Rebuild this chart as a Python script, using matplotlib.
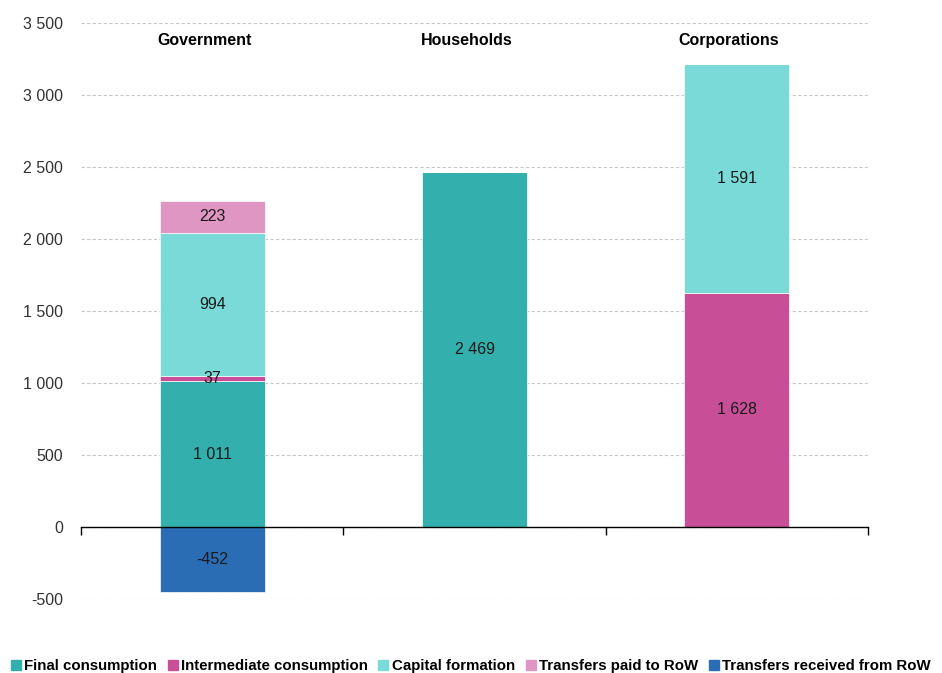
import matplotlib
matplotlib.use("Agg")
import matplotlib.pyplot as plt
from matplotlib.lines import Line2D
import numpy as np

plt.rcParams['font.family'] = ['Liberation Sans', 'DejaVu Sans']

categories = ["Government", "Households", "Corporations"]
series_names = ["Final consumption", "Intermediate consumption", "Capital formation",
                "Transfers paid to RoW", "Transfers received from RoW"]
final_consumption = [1011, 2469, 0]
intermediate_consumption = [37, 0, 1628]
capital_formation = [994, 0, 1591]
transfers_paid = [223, 0, 0]
transfers_received = [-452, 0, 0]
colors = ["#33B0AE", "#C84F97", "#7ADAD8", "#E096C2", "#2A6DB5"]
yticks = [-500, 0, 500, 1000, 1500, 2000, 2500, 3000, 3500]

def fmt(v):
    return f"{v:,}".replace(",", " ")

fig = plt.figure(figsize=(9.42, 6.73), dpi=100)
ax = fig.add_axes([0.086, 0.110, 0.8355, 0.8557])

x = np.arange(len(categories))
width = 0.4
pos_series = [final_consumption, intermediate_consumption, capital_formation, transfers_paid]
bottom = np.zeros(len(categories))
for vals, c in zip(pos_series, colors[:4]):
    vals = np.array(vals, dtype=float)
    ax.bar(x, vals, width, bottom=bottom, color=c, edgecolor="white", linewidth=0.5, zorder=3)
    for xi, v, b in zip(x, vals, bottom):
        if v != 0:
            ax.text(xi, b + v / 2, fmt(int(v)), ha="center", va="center", fontsize=11.5,
                    color="#1a1a1a", zorder=4)
    bottom += vals
neg = np.array(transfers_received, dtype=float)
ax.bar(x, neg, width, color=colors[4], edgecolor="white", linewidth=0.5, zorder=3)
for xi, v in zip(x, neg):
    if v != 0:
        ax.text(xi, v / 2, fmt(int(v)), ha="center", va="center", fontsize=11.5,
                color="#1a1a1a", zorder=4)

for xi, name in zip(x, categories):
    ax.text(xi - 0.03, 3380, name, ha="center", va="center", fontsize=11.5, fontweight="bold")

ax.set_xlim(-0.5, 2.5)
ax.set_ylim(-500, 3500)
ax.set_yticks(yticks)
ax.set_yticklabels([fmt(v) for v in yticks], fontsize=11.5, color="#333333")
ax.tick_params(axis="y", length=0, pad=13)
ax.yaxis.grid(True, linestyle=(0, (3, 2)), color="#c8c8c8", linewidth=0.8, zorder=0)
for s in ["left", "right", "top"]:
    ax.spines[s].set_visible(False)
ax.spines["bottom"].set_position(("data", 0))
ax.spines["bottom"].set_color("black")
ax.spines["bottom"].set_linewidth(1.0)
ax.spines["bottom"].set_zorder(5)
ax.set_xticks([-0.5, 0.5, 1.5, 2.5])
ax.set_xticklabels([])
ax.tick_params(axis="x", direction="out", length=6, width=1, color="black")

handles = [Line2D([0], [0], marker="s", linestyle="none", markersize=6.5,
                  markerfacecolor=c, markeredgecolor=c) for c in colors]
leg = fig.legend(handles, series_names, loc="lower left", bbox_to_anchor=(-0.002, -0.02),
                 ncol=5, frameon=False, handlelength=0.55, handletextpad=0.3,
                 columnspacing=0.75, prop={"weight": "bold", "size": 10.8})

fig.savefig("out.png", dpi=100)
